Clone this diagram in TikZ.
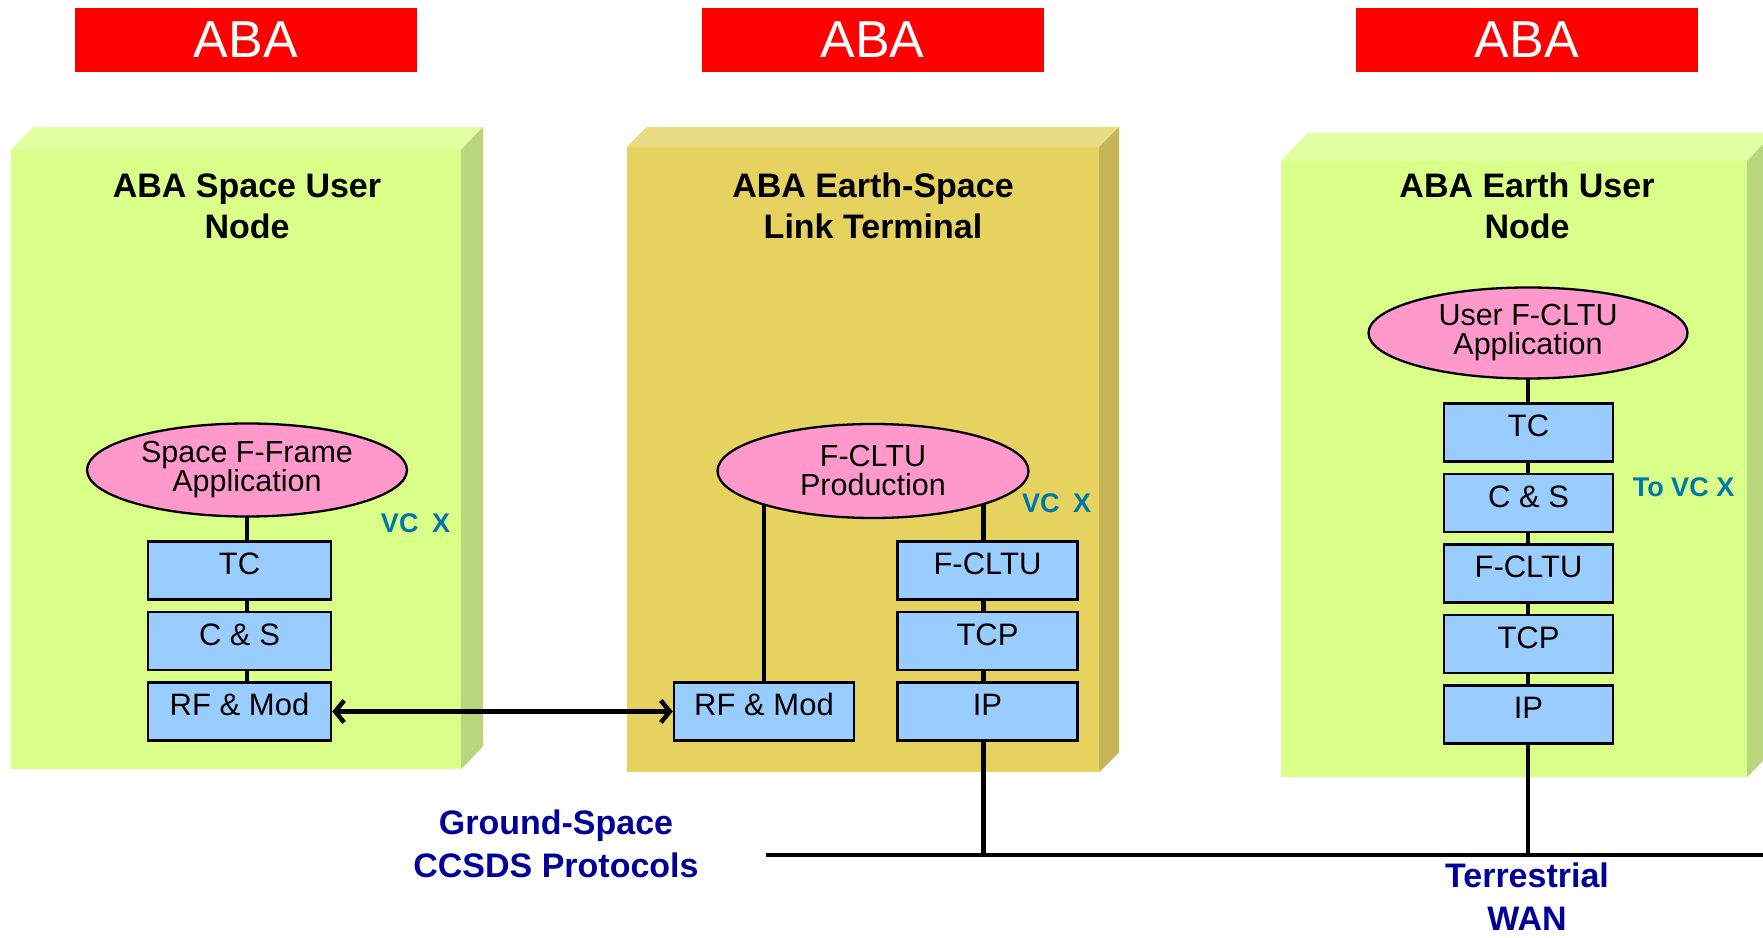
\documentclass[tikz,border=0pt]{standalone}
\usepackage{fontspec}
\setmainfont{Liberation Sans}
\usetikzlibrary{positioning,arrows.meta,shapes.geometric,backgrounds}

\definecolor{abared}{HTML}{FF0000}
\definecolor{greenfront}{HTML}{DAFF88}
\definecolor{greentop}{HTML}{E2FFA2}
\definecolor{greenside}{HTML}{B9D67A}
\definecolor{goldfront}{HTML}{E6D25E}
\definecolor{goldtop}{HTML}{EADC84}
\definecolor{goldside}{HTML}{C6B457}
\definecolor{apppink}{HTML}{FF99CC}
\definecolor{layerblue}{HTML}{99CCFF}
\definecolor{vcteal}{HTML}{0077AA}
\definecolor{netblue}{HTML}{000099}

\begin{document}
\begin{tikzpicture}[x=1pt,y=1pt,
node distance=10pt,
banner/.style={fill=abared,text=white,minimum width=342,minimum height=64,inner sep=0,font=\fontsize{52}{52}\selectfont},
panel/.style={inner sep=0},
title/.style={align=center,font=\fontsize{34}{41}\selectfont\bfseries},
app/.style={ellipse,draw,line width=2.3pt,fill=apppink,inner sep=0,align=center,font=\fontsize{30.5}{29}\selectfont},
layer/.style={draw,line width=2.5pt,fill=layerblue,minimum width=180,minimum height=58,inner sep=0,text height=22pt,text depth=13pt,font=\fontsize{31}{31}\selectfont},
vclabel/.style={text=vcteal,font=\fontsize{27}{27}\selectfont\bfseries},
netlabel/.style={text=netblue,align=center,font=\fontsize{34}{43}\selectfont\bfseries},
link/.style={line width=4.5pt}]
\useasboundingbox (0,0) rectangle (1763,937);

% banners
\node[banner] (b1) at (246,897) {ABA};
\node[banner] (b2) at (872.5,897) {ABA};
\node[banner] (b3) at (1527,897) {ABA};

% 3d panels
\begin{scope}[on background layer]
\node[panel,fill=greenfront,minimum width=450,minimum height=619] (spacep) at (236,477.5) {};
\fill[greentop] (spacep.north west) -- ++(22,23) -- ([shift={(22,23)}]spacep.north east) -- (spacep.north east) -- cycle;
\fill[greenside] (spacep.north east) -- ++(22,23) -- ([shift={(22,23)}]spacep.south east) -- (spacep.south east) -- cycle;
\node[panel,fill=goldfront,minimum width=472,minimum height=625] (eslp) at (863,477.5) {};
\fill[goldtop] (eslp.north west) -- ++(20,20) -- ([shift={(20,20)}]eslp.north east) -- (eslp.north east) -- cycle;
\fill[goldside] (eslp.north east) -- ++(20,20) -- ([shift={(20,20)}]eslp.south east) -- (eslp.south east) -- cycle;
\node[panel,fill=greenfront,minimum width=466,minimum height=616] (earthp) at (1514,468) {};
\fill[greentop] (earthp.north west) -- ++(27,28) -- ([shift={(27,28)}]earthp.north east) -- (earthp.north east) -- cycle;
\fill[greenside] (earthp.north east) -- ++(27,28) -- ([shift={(27,28)}]earthp.south east) -- (earthp.south east) -- cycle;
\end{scope}

\node[title] (spacet) at (247,731) {ABA Space User\\Node};
\node[title] (eslt) at (873,731) {ABA Earth-Space\\Link Terminal};
\node[title] (earths) at (1527,731) {ABA Earth User\\Node};

% space user node
\node[app,minimum width=320,minimum height=93] (sapp) at (247,467) {Space F-Frame\\Application};
\node[layer,minimum width=183] (stc) at (239.5,366.5) {TC};
\node[layer,minimum width=183,below=of stc] (scs) {C \& S};
\node[layer,minimum width=183,below=of scs] (srf) {RF \& Mod};

% earth-space link terminal
\node[app,minimum width=311,minimum height=94] (prod) at (873,466) {F-CLTU\\Production};
\node[layer] (mfc) at (987.5,366.5) {F-CLTU};
\node[layer,below=of mfc] (mtcp) {TCP};
\node[layer,below=of mtcp] (mip) {IP};
\node[layer,left=41pt of mip] (mrf) {RF \& Mod};

% earth user node
\node[app,minimum width=319,minimum height=91] (uapp) at (1528,604) {User F-CLTU\\Application};
\node[layer,minimum width=169] (utc) at (1528.5,504.5) {TC};
\node[layer,minimum width=169,below=of utc] (ucs) {C \& S};
\node[layer,minimum width=169,below=of ucs] (ufc) {F-CLTU};
\node[layer,minimum width=169,below=of ufc] (utcp) {TCP};
\node[layer,minimum width=169,below=of utcp] (uip) {IP};

\node[vclabel] (svc) at (415.5,414) {VC\enspace X};
\node[vclabel] (mvc) at (1056.5,434) {VC\enspace X};
\node[vclabel] (uvc) at (1683.5,450) {To VC X};
\node[netlabel] (gsp) at (556,93) {Ground-Space\\CCSDS Protocols};
\node[netlabel] (wan) at (1527,40) {Terrestrial\\WAN};

\coordinate (wanw) at (766,82);
\coordinate (wane) at (1763,82);

\begin{scope}[on background layer]
\draw[link] (sapp.center) -- (sapp.center |- srf.north);
\draw[link] (prod.center -| mrf.north) -- (mrf.north);
\draw[link] ([xshift=-4]prod.center -| mfc.north) -- ([xshift=-4]mip.center |- wanw);
\draw[link] (uapp.center) -- (uapp.center |- wane);
\end{scope}
\draw[line width=4.5pt] (wanw) -- (wane);
\draw[link,{Straight Barb[length=9,width=22]}-{Straight Barb[length=9,width=22]}] (srf) -- (mrf);
\end{tikzpicture}
\end{document}
